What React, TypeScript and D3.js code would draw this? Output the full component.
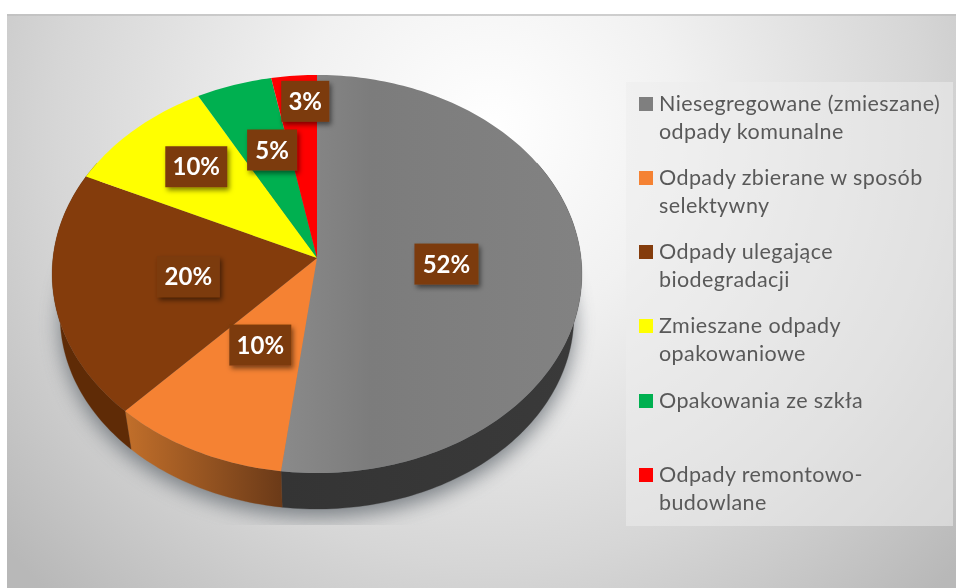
import React from "react";
import * as d3 from "d3";

const categories = [
  ["Niesegregowane (zmieszane)", "odpady komunalne"],
  ["Odpady zbierane w sposób", "selektywny"],
  ["Odpady ulegające", "biodegradacji"],
  ["Zmieszane odpady", "opakowaniowe"],
  ["Opakowania ze szkła"],
  ["Odpady remontowo-", "budowlane"],
];
const values = [52, 10, 20, 10, 5, 3];
const colors = ["#7f7f7f", "#f58233", "#843c0c", "#ffff00", "#00b050", "#ff0000"];
const sideFills = ["url(#sideGray)", "url(#sideOrange)", "#5f2b06", "#8c8c00", "#00702f", "#a00000"];
const legendBaselines = [111, 185, 259, 333, 408, 482];
const labelRadius = [0.49, 0.47, 0.5, 0.7, 0.607, 0.85];
const labelNudge = [0, -2, 2, 9, 7, 8];
const labelWidths = [64, 62, 63, 62, 50, 48];

const W = 956, H = 588;
const cx = 317, rx = 264, apexY = 258, persp = -0.0804, tiltY = 177;
const bottomScale = 0.97, depth = 43;

function project(angle: number, r: number, dy = 0): [number, number] {
  const s = Math.sin(angle) * r;
  const t = -Math.cos(angle) * r;
  const d = 1 + persp * t;
  return [cx + (rx * s) / d, (tiltY * t + apexY) / d + dy];
}

const pie = d3.pie<number>().sort(null).startAngle(0).endAngle(2 * Math.PI);
const arcs = pie(values);
const line = d3.line();

function edge(a: number, b: number, r: number, dy = 0): [number, number][] {
  const n = Math.max(2, Math.ceil(Math.abs(b - a) / 0.02));
  return d3.range(n + 1).map((i) => project(a + ((b - a) * i) / n, r, dy));
}

const visA = (60 * Math.PI) / 180;
const visB = (300 * Math.PI) / 180;

export default function App() {
  const full = edge(0, 2 * Math.PI, bottomScale, depth);
  return (
    <svg
      width={W}
      height={H}
      viewBox={`0 0 ${W} ${H}`}
      style={{ position: "fixed", left: 0, top: 0, display: "block", background: "#fff", filter: "blur(0.5px)" }}
    >
      <defs>
        <radialGradient id="bg" gradientUnits="userSpaceOnUse" cx={490} cy={130} r={640}>
          <stop offset="0" stopColor="#ffffff" />
          <stop offset="0.3" stopColor="#f1f1f1" />
          <stop offset="0.68" stopColor="#d6d6d6" />
          <stop offset="0.8" stopColor="#cbcbcb" />
          <stop offset="1" stopColor="#b8b8b8" />
        </radialGradient>
        <linearGradient id="grayTop" x1="0" y1="0" x2="1" y2="0">
          <stop offset="0" stopColor="#8a8a8a" />
          <stop offset="0.3" stopColor="#7c7c7c" />
          <stop offset="1" stopColor="#828282" />
        </linearGradient>
        <linearGradient id="sideOrange" gradientUnits="userSpaceOnUse" x1={128} y1={0} x2={282} y2={0}>
          <stop offset="0" stopColor="#c06e2a" />
          <stop offset="1" stopColor="#6b3a18" />
        </linearGradient>
        <linearGradient id="sideGray" gradientUnits="userSpaceOnUse" x1={282} y1={0} x2={581} y2={0}>
          <stop offset="0" stopColor="#343434" />
          <stop offset="1" stopColor="#3a3a3a" />
        </linearGradient>
        <filter id="pieShadow" x="-20%" y="-20%" width="140%" height="140%">
          <feGaussianBlur stdDeviation="10" />
        </filter>
        <filter id="labelShadow" x="-30%" y="-30%" width="170%" height="170%">
          <feDropShadow dx="2" dy="3" stdDeviation="2.5" floodColor="#000" floodOpacity="0.5" />
        </filter>
        <clipPath id="shadowClip">
          <rect x={37} y={60} width={560} height={465} />
        </clipPath>
      </defs>

      <rect x={7} y={14} width={W - 7} height={H - 14} fill="url(#bg)" />
      <rect x={7} y={14} width={W - 7} height={2} fill="#bdbdbd" opacity={0.7} />

      <g clipPath="url(#shadowClip)">
        <path
          d={line(full)! + "Z"}
          fill="#6f767b"
          opacity={0.9}
          filter="url(#pieShadow)"
          transform="translate(0 8)"
        />
      </g>

      {arcs.map((a, i) => {
        const from = Math.max(a.startAngle, visA);
        const to = Math.min(a.endAngle, visB);
        if (to <= from) return null;
        const pts = [...edge(from, to, 1), ...edge(to, from, bottomScale, depth)];
        return <path key={i} d={line(pts)! + "Z"} fill={sideFills[i]} stroke={sideFills[i]} strokeWidth={0.3} />;
      })}

      {arcs.map((a, i) => {
        const pts = [project(0, 0), ...edge(a.startAngle, a.endAngle, 1)];
        return <path key={i} d={line(pts)! + "Z"} fill={i === 0 ? "url(#grayTop)" : colors[i]} />;
      })}

      {arcs.map((a, i) => {
        const mid = (a.startAngle + a.endAngle) / 2;
        const [x0, y] = project(mid, labelRadius[i]);
        const x = x0 + labelNudge[i];
        const w = labelWidths[i];
        return (
          <g key={i}>
            <rect x={x - w / 2} y={y - 20.5} width={w} height={41} fill="#7b3b0e" filter="url(#labelShadow)" />
            <text
              x={x}
              y={y + 8.5}
              textAnchor="middle"
              fill="#fff"
              fontFamily="Lato, sans-serif"
              fontWeight={700}
              fontSize={24}
            >
              {d3.format(".0f")(values[i])}%
            </text>
          </g>
        );
      })}

      <rect x={626} y={82} width={327} height={444} fill="#ececec" opacity={0.55} />
      {categories.map((lines, i) => (
        <g key={i}>
          <rect x={639} y={legendBaselines[i] - 14} width={14} height={14} fill={colors[i]} />
          {lines.map((t, j) => (
            <text
              key={j}
              x={659}
              y={legendBaselines[i] + j * 28}
              fill="#595959"
              fontFamily="Lato, sans-serif"
              fontSize={21.5}
              letterSpacing={0.4}
            >
              {t}
            </text>
          ))}
        </g>
      ))}
    </svg>
  );
}
